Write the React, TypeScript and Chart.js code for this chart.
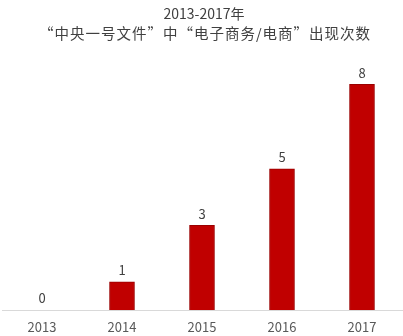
import React, { useEffect, useRef } from "react";
import { Chart, registerables } from "chart.js";

Chart.register(...registerables);

const years = ["2013", "2014", "2015", "2016", "2017"];
const counts = [0, 1, 3, 5, 8];
const titleLines = ["2013-2017年", "“中央一号文件”中“电子商务/电商”出现次数"];

const FONT = "'Noto Sans CJK SC', 'Noto Sans', sans-serif";

const headerPlugin = {
  id: "header",
  afterDraw(chart: any) {
    const ctx = chart.ctx;
    ctx.save();
    ctx.fillStyle = "#404040";
    ctx.textAlign = "center";
    ctx.textBaseline = "middle";
    ctx.font = `14px ${FONT}`;
    ctx.fillText(titleLines[0], 204, 14);
    ctx.font = `14.5px ${FONT}`;
    (ctx as any).letterSpacing = "1px";
    ctx.fillText(titleLines[1], 205, 33);
    ctx.restore();
  },
};

const valueLabels = {
  id: "valueLabels",
  afterDatasetsDraw(chart: any) {
    const ctx = chart.ctx;
    const meta = chart.getDatasetMeta(0);
    ctx.save();
    ctx.fillStyle = "#404040";
    ctx.font = `13px ${FONT}`;
    ctx.textAlign = "center";
    ctx.textBaseline = "bottom";
    meta.data.forEach((bar: any, i: number) => {
      ctx.fillText(String(counts[i]), bar.x, bar.y - 5);
    });
    ctx.restore();
  },
};

export default function App() {
  const ref = useRef<HTMLCanvasElement>(null);
  useEffect(() => {
    const chart = new Chart(ref.current!, {
      type: "bar",
      data: {
        labels: years,
        datasets: [
          {
            data: counts,
            backgroundColor: "#c00000",
            borderColor: "#9a0000",
            borderWidth: 1,
            barThickness: 25,
          },
        ],
      },
      options: {
        animation: false,
        responsive: false,
        maintainAspectRatio: false,
        layout: { padding: { left: 2, right: 1, top: 56, bottom: 0 } },
        plugins: {
          legend: { display: false },
          tooltip: { enabled: false },
          title: { display: false },
        },
        scales: {
          x: {
            grid: { display: false, drawTicks: false },
            border: { color: "#d9d9d9", width: 1 },
            ticks: { color: "#595959", font: { size: 13, family: FONT }, padding: 9 },
            afterFit(scale: any) {
              scale.height = 26;
            },
          },
          y: {
            display: false,
            min: 0,
            max: 9,
          },
        },
      },
      plugins: [headerPlugin, valueLabels],
    });
    return () => chart.destroy();
  }, []);
  return (
    <div style={{ position: "fixed", left: 0, top: 0, width: 403, height: 336, background: "#fff" }}>
      <canvas ref={ref} width={403} height={336} />
    </div>
  );
}
